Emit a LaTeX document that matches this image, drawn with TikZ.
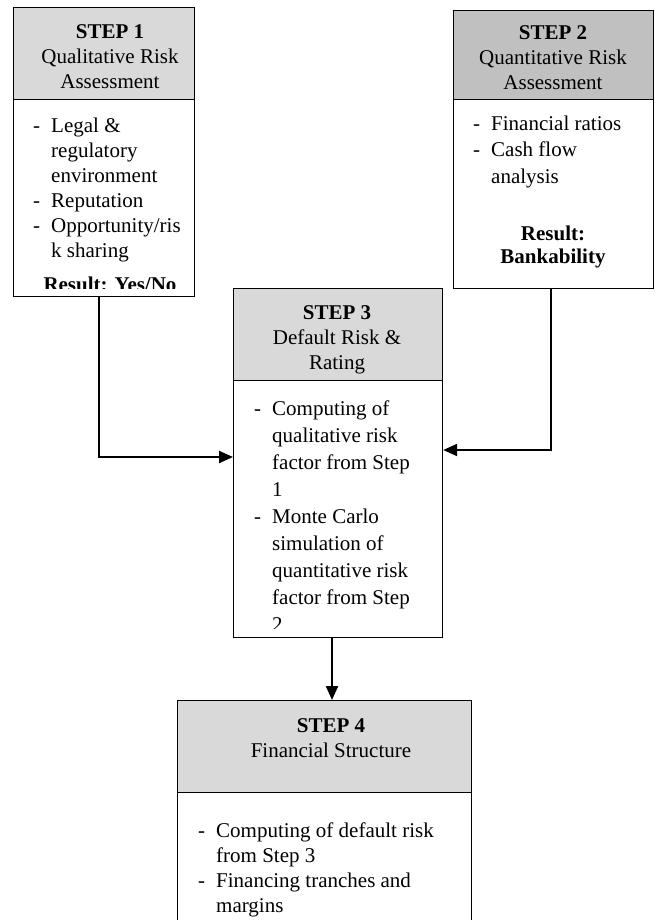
\documentclass[tikz,border=0pt]{standalone}
\usepackage{fontspec}
\setmainfont{Liberation Serif}
\usetikzlibrary{arrows.meta}
\definecolor{hdr}{HTML}{D9D9D9}
\definecolor{hdrdark}{HTML}{C0C0C0}
\newcommand{\dsh}{\makebox[18pt][l]{-}}
\newcommand{\ind}{\hspace*{18pt}}
\begin{document}
\begin{tikzpicture}[x=1pt,y=-1pt,
  boxline/.style={draw=black,line width=1.2pt},
  headbox/.style={boxline,fill=hdr,anchor=north west,inner sep=0pt},
  bodybox/.style={boxline,fill=white,anchor=north west,inner sep=0pt},
  headtxt/.style={font=\fontsize{21}{25}\selectfont,inner sep=0pt,anchor=base,align=center},
  listtxt/.style={font=\fontsize{21}{#1}\selectfont,inner sep=0pt,anchor=base west,align=left},
  restxt/.style={font=\bfseries\fontsize{21}{23}\selectfont,inner sep=0pt,anchor=base,align=center},
  feed/.style={line width=1.3pt},
  conn/.style={line width=2.2pt,-{Triangle[length=14pt,width=12pt]}}
]
\useasboundingbox (0,0) rectangle (654,920);
\clip (0,0) rectangle (654,920);

% (multi-line text nodes: the base anchor is the baseline of the last line)

% ---------- Step 1 ----------
\node[headbox,minimum width=181pt,minimum height=92pt] (h1) at (13,7) {};
\node[bodybox,minimum width=181pt,minimum height=197pt] (b1) at (13,99) {};
\node[headtxt] (h1t) at (110,89) {\textbf{STEP 1}\\Qualitative Risk\\Assessment};
\begin{scope}
\clip (13,99) rectangle (194,288);
\node[listtxt=25] (b1t) at (33,257) {\dsh Legal \&\\\ind regulatory\\\ind environment\\\dsh Reputation\\\dsh Opportunity/ris\\\ind k sharing};
\node[restxt] (r1) at (110,291) {Result: Yes/No};
\end{scope}

% ---------- Step 2 ----------
\node[headbox,fill=hdrdark,minimum width=200pt,minimum height=89pt] (h2) at (453,10) {};
\node[bodybox,minimum width=200pt,minimum height=189pt] (b2) at (453,99) {};
\begin{scope}
\clip (453,10) rectangle (653,95);
\node[headtxt] (h2t) at (553,90) {\textbf{STEP 2}\\Quantitative Risk\\Assessment};
\end{scope}
\node[listtxt=26.5] (b2t) at (473,183) {\dsh Financial ratios\\\dsh Cash flow\\\ind analysis};
\node[restxt] (r2) at (553,263) {Result:\\Bankability};

% ---------- Step 3 ----------
\node[headbox,minimum width=209pt,minimum height=92pt] (h3) at (233,288) {};
\node[bodybox,minimum width=209pt,minimum height=257pt] (b3) at (233,380) {};
\begin{scope}
\clip (233,288) rectangle (442,373);
\node[headtxt] (h3t) at (337,369) {\textbf{STEP 3}\\Default Risk \&\\Rating};
\end{scope}
\begin{scope}
\clip (233,380) rectangle (442,628);
\node[listtxt=27] (b3t) at (254,631) {\dsh Computing of\\\ind qualitative risk\\\ind factor from Step\\\ind 1\\\dsh Monte Carlo\\\ind simulation of\\\ind quantitative risk\\\ind factor from Step\\\ind 2};
\end{scope}

% ---------- Step 4 ----------
\node[headbox,minimum width=294pt,minimum height=92pt] (h4) at (177,700) {};
\node[bodybox,minimum width=294pt,minimum height=160pt] (b4) at (177,792) {};
\node[headtxt] (h4t) at (331,757) {\textbf{STEP 4}\\Financial Structure};
\node[listtxt=25] (b4t) at (198,912) {\dsh Computing of default risk\\\ind from Step 3\\\dsh Financing tranches and\\\ind margins};

% ---------- connectors ----------
\coordinate (c1) at (99,457);
\coordinate (c2) at (551,450);
\coordinate (c3) at (332,0);
\draw[feed] (b1.south -| c1) -- (c1);
\draw[conn] ([xshift=-0.65pt]c1) -- (c1 -| b3.west);
\draw[feed] (b2.south -| c2) -- (c2);
\draw[conn] ([xshift=0.65pt]c2) -- (c2 -| b3.east);
\draw[conn] (b3.south -| c3) -- (h4.north -| c3);
\end{tikzpicture}
\end{document}
